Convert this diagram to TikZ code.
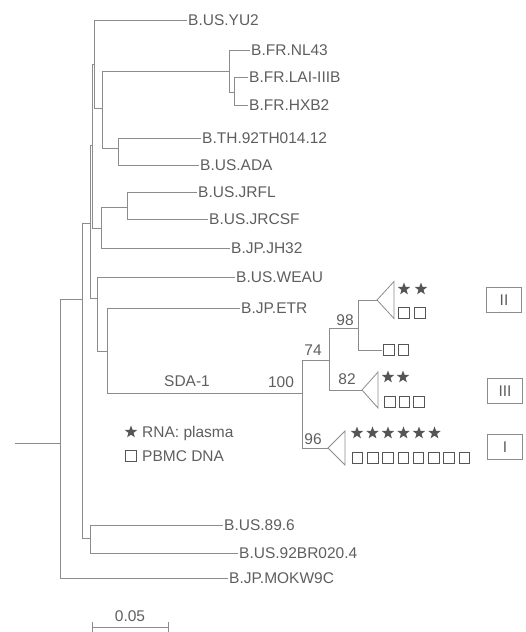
\documentclass[tikz,border=0pt]{standalone}
\usepackage{fontspec}
\setmainfont{Liberation Sans}
\usetikzlibrary{shapes.geometric}

\definecolor{linecol}{HTML}{8C8C8C}
\definecolor{textcol}{HTML}{5E5E5E}
\definecolor{starcol}{HTML}{555555}
\newcommand{\taxonfont}{\fontsize{15.5}{18}\selectfont}

\begin{document}
\begin{tikzpicture}[x=1pt, y=-1pt,
    branch/.style={draw=linecol, line width=0.8pt},
    taxon/.style={anchor=west, inner sep=1pt, text=textcol, font=\taxonfont, text depth=0pt},
    support/.style={inner sep=0pt, text=textcol, font=\taxonfont},
    rnastar/.style={star, star points=5, star point ratio=2.4, fill=starcol, minimum size=13pt, inner sep=0pt},
    dnabox/.style={draw=starcol, line width=0.7pt, minimum size=10.5pt, inner sep=0pt},
    groupbox/.style={draw=linecol, line width=0.8pt, minimum width=35pt, minimum height=25pt, text=textcol, font=\taxonfont}]
    \useasboundingbox (0,0) rectangle (525,632);

    % Internal nodes
    \coordinate (stem) at (15,443);
    \coordinate (root) at (60,443);
    \coordinate (nB) at (82,299);
    \coordinate (nE) at (90,223);
    \coordinate (nH) at (92.5,145);
    \coordinate (nF) at (94.5,64);
    \coordinate (nG) at (102.7,108);
    \coordinate (nFR) at (229,71);
    \coordinate (nLAI) at (234,92);
    \coordinate (nTH) at (118,148);
    \coordinate (nI) at (101.7,228);
    \coordinate (nJR) at (127,207);
    \coordinate (nC) at (97,298);
    \coordinate (nD) at (107,351);
    \coordinate (n100) at (302,393);
    \coordinate (n74) at (329,360);
    \coordinate (n98) at (358,328);
    \coordinate (nQ) at (90,538);

    % Collapsed clades (apex of each triangle)
    \coordinate (cladeII) at (377,300);
    \coordinate (cladeIII) at (362,390);
    \coordinate (cladeI) at (328,448);
    \coordinate (lone) at (382,350);

    % Taxa
    \node[taxon] (yu2) at (187,20) {B.US.YU2};
    \node[taxon] (nl43) at (250,50) {B.FR.NL43};
    \node[taxon] (lai) at (248,77) {B.FR.LAI-IIIB};
    \node[taxon] (hxb2) at (248,105) {B.FR.HXB2};
    \node[taxon] (th) at (201,138) {B.TH.92TH014.12};
    \node[taxon] (ada) at (199,165) {B.US.ADA};
    \node[taxon] (jrfl) at (197,192) {B.US.JRFL};
    \node[taxon] (jrcsf) at (208,219) {B.US.JRCSF};
    \node[taxon] (jh32) at (230,248) {B.JP.JH32};
    \node[taxon] (weau) at (235,277) {B.US.WEAU};
    \node[taxon] (etr) at (240,308) {B.JP.ETR};
    \node[taxon] (us896) at (223,525) {B.US.89.6};
    \node[taxon] (us92br) at (238,553) {B.US.92BR020.4};
    \node[taxon] (mokw) at (228,578) {B.JP.MOKW9C};

    % Backbone
    \draw[branch] (stem) -- (root);
    \draw[branch] (root) |- (nB);
    \draw[branch] (root) |- (mokw);
    \draw[branch] (nB) |- (nE);
    \draw[branch] (nB) |- (nQ);
    \draw[branch] (nE) |- (nH);
    \draw[branch] (nE) |- (nC);
    \draw[branch] (nH) |- (nF);
    \draw[branch] (nH) |- (nI);
    \draw[branch] (nF) |- (yu2);
    \draw[branch] (nF) |- (nG);
    \draw[branch] (nG) |- (nFR);
    \draw[branch] (nG) |- (nTH);
    \draw[branch] (nFR) |- (nl43);
    \draw[branch] (nFR) |- (nLAI);
    \draw[branch] (nLAI) |- (lai);
    \draw[branch] (nLAI) |- (hxb2);
    \draw[branch] (nTH) |- (th);
    \draw[branch] (nTH) |- (ada);
    \draw[branch] (nI) |- (nJR);
    \draw[branch] (nI) |- (jh32);
    \draw[branch] (nJR) |- (jrfl);
    \draw[branch] (nJR) |- (jrcsf);
    \draw[branch] (nC) |- (weau);
    \draw[branch] (nC) |- (nD);
    \draw[branch] (nD) |- (etr);
    \draw[branch] (nD) |- (n100);
    \draw[branch] (nQ) |- (us896);
    \draw[branch] (nQ) |- (us92br);

    % SDA-1 clade
    \draw[branch] (n100) |- (n74);
    \draw[branch] (n100) |- (cladeI);
    \draw[branch] (n74) |- (n98);
    \draw[branch] (n74) |- (cladeIII);
    \draw[branch] (n98) |- (cladeII);
    \draw[branch] (n98) |- (lone);
    \draw[branch] (cladeII) -- ++(17,-18.5) -- ++(0,37) -- cycle;
    \draw[branch] (cladeIII) -- ++(16,-18) -- ++(0,36) -- cycle;
    \draw[branch] (cladeI) -- ++(17,-17) -- ++(0,34) -- cycle;

    \node[support] (sdalab) at (187,381) {SDA-1};
    \node[support] (bs100) at (281,382) {100};
    \node[support] (bs74) at (313,350) {74};
    \node[support] (bs98) at (345,320) {98};
    \node[support] (bs82) at (347,379) {82};
    \node[support] (bs96) at (313,439) {96};

    % Stars (RNA) and boxes (DNA)
    \foreach \k in {0,1} {
        \node[rnastar] (sII\k) at ({404+17*\k},289) {};
        \node[dnabox] (dII\k) at ({404+16*\k},313) {};
        \node[dnabox] (dL\k) at ({389+14.5*\k},350) {};
        \node[rnastar] (sIII\k) at ({388+15*\k},377) {};
    }
    \foreach \k in {0,1,2}
        \node[dnabox] (dIII\k) at ({390+14.5*\k},402) {};
    \foreach \k in {0,...,5}
        \node[rnastar] (sI\k) at ({357+15.5*\k},433) {};
    \foreach \k in {0,...,7}
        \node[dnabox] (dI\k) at ({357.5+15.25*\k},458) {};

    % Group boxes
    \node[groupbox] (gII) at (504,300) {II};
    \node[groupbox] (gIII) at (505,391) {III};
    \node[groupbox] (gI) at (505,447) {I};

    % Legend
    \node[rnastar] (legstar) at (131,432) {};
    \node[taxon] (legrna) at (141,432) {RNA: plasma};
    \node[dnabox] (legbox) at (131,456) {};
    \node[taxon] (legdna) at (141,456) {PBMC DNA};

    % Scale bar
    \coordinate (sbL) at (92,627);
    \coordinate (sbR) at (168,627);
    \draw[branch] (sbL) -- (sbR);
    \draw[branch] (sbL) ++(0,-5) -- ++(0,10);
    \draw[branch] (sbR) ++(0,-5) -- ++(0,10);
    \node[support] (sblab) at (130,616) {0.05};
\end{tikzpicture}
\end{document}
